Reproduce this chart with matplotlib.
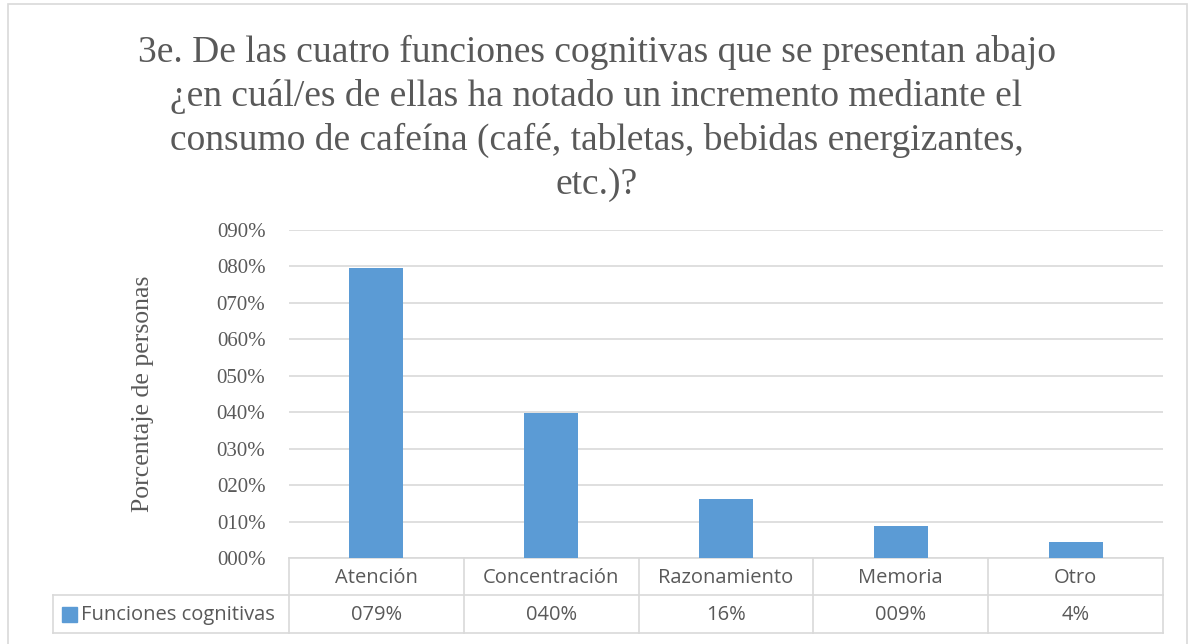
import matplotlib
matplotlib.use("Agg")
import matplotlib.pyplot as plt
from matplotlib.patches import Rectangle
from matplotlib.lines import Line2D
from matplotlib.ticker import FuncFormatter

# data
categories = ["Atención", "Concentración", "Razonamiento", "Memoria", "Otro"]
values = [0.795, 0.398, 0.161, 0.089, 0.043]
value_labels = ["079%", "040%", "16%", "009%", "4%"]
series_name = "Funciones cognitivas"

title = ("3e. De las cuatro funciones cognitivas que se presentan abajo\n"
         "¿en cuál/es de ellas ha notado un incremento mediante el\n"
         "consumo de cafeína (café, tabletas, bebidas energizantes,\n"
         "etc.)?")

BAR = "#5B9BD5"
TXT = "#595959"
GRID = "#D9D9D9"
SERIF = "Liberation Serif"
SANS = "Open Sans"

W, H = 1193, 644
fig = plt.figure(figsize=(W / 100, H / 100), dpi=100)

# outer chart border
fig.patches.append(Rectangle((8 / W, -0.02), (1187 - 8) / W, 1.02 - 4 / H,
                             transform=fig.transFigure, fill=False,
                             edgecolor=GRID, linewidth=1.2))

# plot area in pixels
left, right, top, bottom = 289, 1163, 230, 558
ax = fig.add_axes([left / W, (H - bottom) / H, (right - left) / W, (bottom - top) / H])

x = list(range(len(categories)))
ax.bar(x, values, width=0.31, color=BAR, zorder=3)
ax.set_xlim(-0.5, len(categories) - 0.5)
ax.set_ylim(0, 0.9)
ax.set_yticks([i / 10 for i in range(10)])
ax.yaxis.set_major_formatter(FuncFormatter(lambda v, _: f"{round(v * 100):03d}%"))
ax.tick_params(axis="y", length=0, pad=17, labelsize=15, labelcolor=TXT)
for lab in ax.get_yticklabels():
    lab.set_fontfamily(SERIF)
ax.set_xticks([])
ax.grid(axis="y", color=GRID, linewidth=1.2, zorder=0)
for s in ax.spines.values():
    s.set_visible(False)

ax.set_ylabel("Porcentaje de personas", fontsize=18.5, color=TXT,
              fontfamily=SERIF, labelpad=45)

# data table under the axis
ah = bottom - top
row1 = (558 - 595) / ah
row2 = (558 - 633) / ah
label_left = (53 - left) / (right - left)

def hline(x0, x1, y):
    ax.add_line(Line2D([x0, x1], [y, y], transform=ax.transAxes, color=GRID,
                       linewidth=1.2, clip_on=False))

def vline(xa, y0, y1):
    ax.add_line(Line2D([xa, xa], [y0, y1], transform=ax.transAxes, color=GRID,
                       linewidth=1.2, clip_on=False))

hline(0, 1, 0)
hline(label_left, 1, row1)
hline(label_left, 1, row2)
ncat = len(categories)
for i in range(ncat + 1):
    vline(i / ncat, 0, row2)
vline(label_left, row1, row2)

tr = ax.get_xaxis_transform()
for i, (cat, lab) in enumerate(zip(categories, value_labels)):
    ax.text(i, row1 / 2 - 0.004, cat, transform=tr, ha="center", va="center",
            fontsize=14.5, color=TXT, fontfamily=SANS)
    ax.text(i, (row1 + row2) / 2 - 0.004, lab, transform=tr, ha="center", va="center",
            fontsize=14.5, color=TXT, fontfamily=SANS)

# legend key in the row header
sw = 15 / (right - left)
swh = 15 / ah
ax.add_patch(Rectangle((label_left + 9 / (right - left), (row1 + row2) / 2 - swh / 2),
                       sw, swh, transform=ax.transAxes, color=BAR, clip_on=False))
ax.text(label_left + 28 / (right - left), (row1 + row2) / 2 - 0.004, series_name,
        transform=ax.transAxes, ha="left", va="center", fontsize=14.5,
        color=TXT, fontfamily=SANS)

fig.text(0.5, 1 - 35 / H, title, ha="center", va="top", fontsize=27,
         color=TXT, fontfamily=SERIF, linespacing=1.33)

fig.savefig("out.png", dpi=100)
